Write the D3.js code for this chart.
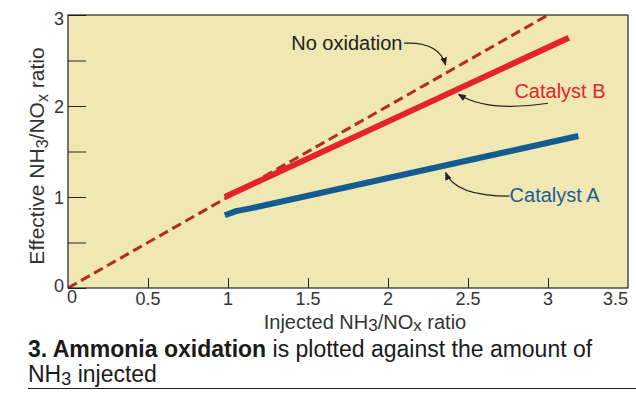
<!DOCTYPE html>
<html>
<head>
<script src="https://cdn.jsdelivr.net/npm/d3@7"></script>
<style>
	body { margin: 0; background: #fff; }
	text { font-family: "Liberation Sans", Arial, sans-serif; }
</style>
</head>
<body>
<div id="chart"></div>
<script>
	// data
	var xTickValues = [0, 0.5, 1, 1.5, 2, 2.5, 3, 3.5];
	var yMajorTicks = [0, 1, 2, 3];
	var yMinorTicks = [0.5, 1.5, 2.5];
	var noOxidation = [[0, 0], [3.0, 3.0]];
	var catalystB = [[0.98, 1.0], [3.13, 2.75]];
	var catalystA = [[0.98, 0.80], [1.05, 0.845], [1.14, 0.875], [3.19, 1.67]];

	var W = 636, H = 393;
	var m = { left: 68, right: 8, top: 15, bottom: 105 };

	var svg = d3.select("#chart").append("svg")
		.attr("width", W)
		.attr("height", H);

	var x = d3.scaleLinear().domain([0, 3.5]).range([m.left, W - m.right]);
	var y = d3.scaleLinear().domain([0, 3]).range([H - m.bottom, m.top]);

	svg.append("defs").append("clipPath").attr("id", "plotclip")
		.append("rect")
		.attr("x", x(0)).attr("y", y(3))
		.attr("width", x(3.5) - x(0)).attr("height", y(0) - y(3));

	svg.append("marker")
		.attr("id", "arrow")
		.attr("viewBox", "0 0 10 10")
		.attr("refX", 9).attr("refY", 5)
		.attr("markerWidth", 7).attr("markerHeight", 7)
		.attr("orient", "auto")
		.append("path")
		.attr("d", "M0,1 L10,5 L0,9 z")
		.attr("fill", "#222");

	// plot background
	svg.append("rect")
		.attr("x", x(0)).attr("y", y(3))
		.attr("width", x(3.5) - x(0)).attr("height", y(0) - y(3))
		.attr("fill", "#f0e8b2");

	// axes: ticks point inward
	var xAxis = svg.append("g")
		.attr("transform", "translate(0," + y(0) + ")")
		.call(d3.axisTop(x).tickValues(xTickValues.slice(1, -1)).tickSize(10).tickFormat(""));
	xAxis.select(".domain").remove();
	xAxis.selectAll("line").attr("stroke", "#222");

	var yAxis = svg.append("g")
		.attr("transform", "translate(" + x(0) + ",0)")
		.call(d3.axisRight(y).tickValues(yMajorTicks.concat(yMinorTicks)).tickSize(18).tickFormat(""));
	yAxis.select(".domain").remove();
	yAxis.selectAll("line").attr("stroke", "#222");

	// x tick labels
	svg.append("g").selectAll("text")
		.data(xTickValues)
		.enter().append("text")
		.attr("x", function(d) { return d == 0 ? x(d) + 4 : x(d); })
		.attr("y", function(d) { return d == 0 ? y(0) + 15 : y(0) + 17; })
		.attr("text-anchor", function(d) { return d == 3.5 ? "end" : "middle"; })
		.attr("font-size", 18)
		.attr("fill", "#333")
		.text(function(d) { return d; });

	// y tick labels
	svg.append("g").selectAll("text")
		.data(yMajorTicks)
		.enter().append("text")
		.attr("x", x(0) - 4)
		.attr("y", function(d) { return d == 0 ? y(d) + 4 : d == 3 ? y(d) + 10 : y(d) + 7; })
		.attr("text-anchor", "end")
		.attr("font-size", 18)
		.attr("fill", "#333")
		.text(function(d) { return d; });

	var line = d3.line()
		.x(function(d) { return x(d[0]); })
		.y(function(d) { return y(d[1]); });

	var plot = svg.append("g").attr("clip-path", "url(#plotclip)");

	plot.append("path")
		.attr("d", line(noOxidation))
		.attr("fill", "none")
		.attr("stroke", "#b32b26")
		.attr("stroke-width", 3)
		.attr("stroke-dasharray", "10,5");

	plot.append("path")
		.attr("d", line(catalystB))
		.attr("fill", "none")
		.attr("stroke", "#e4232a")
		.attr("stroke-width", 6);

	plot.append("path")
		.attr("d", line(catalystA))
		.attr("fill", "none")
		.attr("stroke", "#135c92")
		.attr("stroke-width", 6);

	// frame
	svg.append("rect")
		.attr("x", x(0)).attr("y", y(3))
		.attr("width", x(3.5) - x(0)).attr("height", y(0) - y(3))
		.attr("fill", "none")
		.attr("stroke", "#222")
		.attr("stroke-width", 1.2);

	// annotations
	function callout(label, color, tx, ty, anchor, from, ctrl, to) {
		svg.append("text")
			.attr("x", x(tx)).attr("y", y(ty))
			.attr("text-anchor", anchor)
			.attr("font-size", 20)
			.attr("fill", color)
			.text(label);
		svg.append("path")
			.attr("d", "M" + x(from[0]) + "," + y(from[1]) +
				" Q" + x(ctrl[0]) + "," + y(ctrl[1]) + " " + x(to[0]) + "," + y(to[1]))
			.attr("fill", "none")
			.attr("stroke", "#222")
			.attr("stroke-width", 1.2)
			.attr("marker-end", "url(#arrow)");
	}

	callout("No oxidation", "#222", 2.09, 2.61, "end", [2.1, 2.69], [2.32, 2.71], [2.36, 2.45]);
	callout("Catalyst B", "#e4232a", 2.79, 2.09, "start", [3.0, 2.03], [2.62, 1.93], [2.44, 2.13]);
	callout("Catalyst A", "#1d5e95", 2.76, 0.94, "start", [2.76, 1.01], [2.42, 1.01], [2.36, 1.27]);

	// axis titles
	var xt = svg.append("text")
		.attr("x", 365).attr("y", 329)
		.attr("text-anchor", "middle")
		.attr("font-size", 20)
		.attr("fill", "#333");
	xt.append("tspan").text("Injected NH");
	xt.append("tspan").attr("dy", 2).attr("font-size", 17).text("3");
	xt.append("tspan").attr("dy", -2).text("/NO");
	xt.append("tspan").attr("dy", 2).attr("font-size", 17).text("x");
	xt.append("tspan").attr("dy", -2).text(" ratio");

	var yt = svg.append("text")
		.attr("transform", "translate(44,156) rotate(-90)")
		.attr("text-anchor", "middle")
		.attr("font-size", 21)
		.attr("fill", "#333");
	yt.append("tspan").text("Effective NH");
	yt.append("tspan").attr("dy", 4).attr("font-size", 16).text("3");
	yt.append("tspan").attr("dy", -4).text("/NO");
	yt.append("tspan").attr("dy", 4).attr("font-size", 16).text("x");
	yt.append("tspan").attr("dy", -4).text(" ratio");

	// caption
	var c1 = svg.append("text")
		.attr("x", 28).attr("y", 357)
		.attr("font-size", 23)
		.attr("fill", "#1a1a1a");
	c1.append("tspan").attr("font-weight", "bold").text("3. Ammonia oxidation");
	c1.append("tspan").text(" is plotted against the amount of");

	var c2 = svg.append("text")
		.attr("x", 28).attr("y", 382)
		.attr("font-size", 23)
		.attr("fill", "#1a1a1a");
	c2.append("tspan").text("NH");
	c2.append("tspan").attr("dy", 3).attr("font-size", 18).text("3");
	c2.append("tspan").attr("dy", -3).text(" injected");

	svg.append("line")
		.attr("x1", 28).attr("x2", W)
		.attr("y1", 388.5).attr("y2", 388.5)
		.attr("stroke", "#222")
		.attr("stroke-width", 1);
</script>
</body>
</html>
